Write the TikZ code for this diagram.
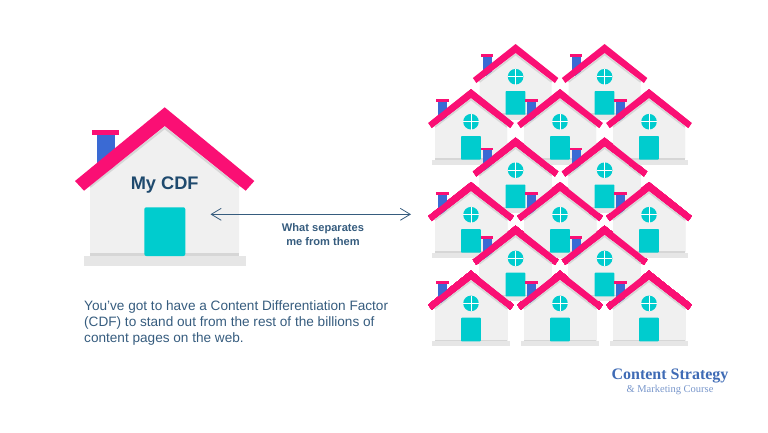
\documentclass[tikz,border=0pt]{standalone}
\usepackage{fontspec}
\setmainfont{Liberation Sans}
\newfontfamily\logofont{Liberation Serif}
\usetikzlibrary{arrows.meta}
\definecolor{roofpink}{HTML}{FA0F74}
\definecolor{chimblue}{HTML}{3A6AD4}
\definecolor{doorteal}{HTML}{00CCCE}
\definecolor{wallgray}{HTML}{F0F0F0}
\definecolor{slabgray}{HTML}{E6E6E6}
\definecolor{bandgray}{HTML}{D6D6D6}
\definecolor{inkblue}{HTML}{1F4A6E}
\definecolor{notblue}{HTML}{365C7E}
\definecolor{logoblue}{HTML}{3F6BB5}
\newcommand{\smallhouse}[2]{%
  \begin{scope}[shift={(#1,#2)}]
    \fill[chim] (-33,12) rectangle (-24,32);
    \fill[roof] (-35,10.3) rectangle (-22.3,12.8);
    \fill[wall] (-36,38) -- (0,9) -- (36,38) -- (36,70) -- (-36,70) -- cycle;
    \draw[bandgray, line width=1.5pt] (-36,38) -- (0,10.5) -- (36,38);
    \fill[slab] (-39,70.5) rectangle (39,75.5);
    \fill[bandgray] (-36,69) rectangle (36,70.7);
    \fill[door, rounded corners=0.8pt] (-10,47) rectangle (9.8,70.7);
    \fill[door] (0,32.7) circle (7.8);
    \draw[white, line width=0.7pt] (-7.8,32.7) -- (7.8,32.7) (0,24.9) -- (0,40.5);
    \fill[roof] (0,0) -- (42.7,34) -- (39.3,39) -- (0,9) -- (-39.3,39) -- (-42.7,34) -- cycle;
  \end{scope}}
\begin{document}
\begin{tikzpicture}[
  x=1pt, y=-1pt,
  roof/.style={roofpink},
  chim/.style={chimblue},
  door/.style={doorteal},
  wall/.style={wallgray},
  slab/.style={slabgray},
  note/.style={notblue, font=\fontsize{13.6}{16.3}\selectfont, align=left, anchor=north west, inner sep=0pt},
  tag/.style={notblue, font=\fontsize{11.1}{13.7}\selectfont\bfseries, align=center, inner sep=0pt},
  sep/.style={{Straight Barb[length=3.5mm, width=4.2mm]}-{Straight Barb[length=3.5mm, width=4.2mm]}, notblue, line width=0.8pt}]
\useasboundingbox (0,0) rectangle (768,432);
% --- my house ---
\fill[chim] (96.7,134) rectangle (115,170);
\fill[roof] (92.3,130.3) rectangle (119,135.2);
\fill[wall] (90,186) -- (164.7,126) -- (239,186) -- (239,254) -- (90,254) -- cycle;
\draw[bandgray, line width=2pt] (90,187) -- (164.7,128) -- (239,187);
\fill[slab] (84,256) rectangle (245.7,265.7);
\fill[bandgray] (90,253.3) rectangle (239,256);
\fill[door, rounded corners=2pt] (144.3,207.3) rectangle (185.3,256);
\fill[roof] (164.7,107.3) -- (254.3,181) -- (245.7,190.7) -- (164.7,126) -- (84,190.7) -- (75,181) -- cycle;
\node[inkblue, font=\fontsize{18.2}{22}\selectfont\bfseries, inner sep=0pt] (mycdf) at (164.7,185) {My CDF};
% --- the other houses, row by row ---
\foreach \hx in {515.6,604.6} \smallhouse{\hx}{44}
\foreach \hx in {471,560,649} \smallhouse{\hx}{89}
\foreach \hx in {515.6,604.6} \smallhouse{\hx}{137.5}
\foreach \hx in {471,560,649} \smallhouse{\hx}{182}
\foreach \hx in {515.6,604.6} \smallhouse{\hx}{225.7}
\foreach \hx in {471,560,649} \smallhouse{\hx}{270.7}
% --- arrow and texts ---
\coordinate (sepl) at (210.5,214.3);
\coordinate (sepr) at (411,214.3);
\draw[sep] (sepl) -- (sepr);
\node[tag] (septag) at (323,234.5) {What separates\\me from them};
\node[note] (cdfnote) at (84,300) {You’ve got to have a Content Differentiation Factor\\(CDF) to stand out from the rest of the billions of\\content pages on the web.};
\node[logoblue, font=\logofont\fontsize{16}{16}\selectfont\bfseries, inner sep=0pt] (logotop) at (670,376) {Content Strategy};
\node[logoblue!70, font=\logofont\fontsize{10.5}{11}\selectfont, inner sep=0pt] (logosub) at (670,390) {\& Marketing Course};
\end{tikzpicture}
\end{document}
